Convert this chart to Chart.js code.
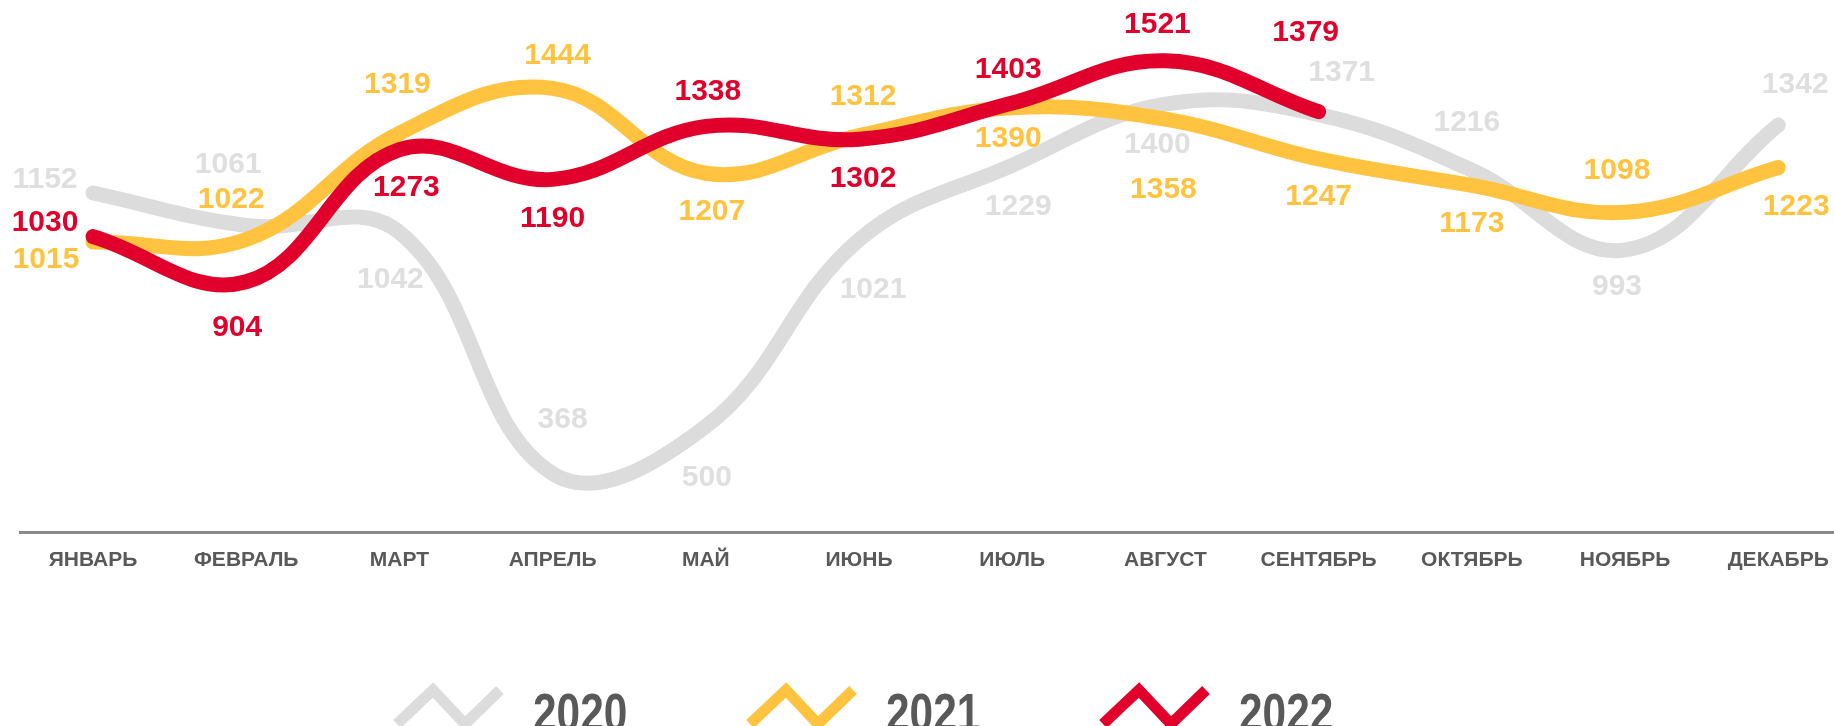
<!DOCTYPE html>
<html>
<head>
<meta charset="utf-8">
<script src="https://cdn.jsdelivr.net/npm/chart.js@4.4.1/dist/chart.umd.min.js"></script>
<style>
  html, body { margin: 0; padding: 0; background: #fff; }
  #wrap { width: 1834px; height: 726px; position: relative; }
</style>
</head>
<body>
<div id="wrap"><canvas id="chart"></canvas></div>
<script>
// months on the x axis
const months = ["ЯНВАРЬ","ФЕВРАЛЬ","МАРТ","АПРЕЛЬ","МАЙ","ИЮНЬ","ИЮЛЬ","АВГУСТ","СЕНТЯБРЬ","ОКТЯБРЬ","НОЯБРЬ","ДЕКАБРЬ"];
const years = ["2020", "2021", "2022"];

// values per year (2022 stops at September)
const v2020 = [1152, 1061, 1042, 368, 500, 1021, 1229, 1400, 1371, 1216, 993, 1342];
const v2021 = [1015, 1022, 1319, 1444, 1207, 1312, 1390, 1358, 1247, 1173, 1098, 1223];
const v2022 = [1030, 904, 1273, 1190, 1338, 1302, 1403, 1521, 1379];

// where each value label sits relative to its point (px)
const dx2020 = [-48, -18, -9, 10, 1, 14, 6, -8, 23, -5, -8, 17];
const dy2020 = [-13, -61, 47, -54, 51, 50, 41, 41, -42, -47, 37, -40];
const dx2021 = [-47, -15, -2, 5, 6, 4, -4, -2, 0, 0, -8, 18];
const dy2021 = [18, -40, -48, -33, 38, -39, 31, 71, 38, 38, -42, 39];
const dx2022 = [-48, -9, 7, 0, 2, 4, -4, -8, -13];
const dy2022 = [-14, 46, 38, 39, -35, 39, -33, -36, -79];

const lineColors = ["#DCDCDC", "#FFC33F", "#E0002B"];
const textColors = ["#DFDFDF", "#FFC33F", "#E0002B"];
const FONT = "'Liberation Sans', Arial, sans-serif";

const series = [v2020, v2021, v2022];
const offsets = [[dx2020, dy2020], [dx2021, dy2021], [dx2022, dy2022]];

const toPoints = arr => arr.map((v, i) => ({ x: i, y: v }));

// value labels next to each point
const valueLabels = {
  id: "valueLabels",
  afterDatasetsDraw(chart) {
    const ctx = chart.ctx;
    ctx.save();
    ctx.font = "bold 30px " + FONT;
    ctx.textAlign = "center";
    ctx.textBaseline = "middle";
    chart.data.datasets.forEach((ds, di) => {
      const meta = chart.getDatasetMeta(di);
      const [dx, dy] = offsets[di];
      ctx.fillStyle = textColors[di];
      meta.data.forEach((pt, j) => {
        ctx.fillText(String(series[di][j]), pt.x + dx[j], pt.y + dy[j]);
      });
    });
    ctx.restore();
  }
};

// legend with zigzag icons, partly cut by the bottom edge like the original
const zigLegend = {
  id: "zigLegend",
  afterDraw(chart) {
    const ctx = chart.ctx;
    const startX = 397, step = 353, top = 690;
    const zig = [[0, 34], [36, 0], [68, 34], [103, 0]];
    chart.data.datasets.forEach((ds, i) => {
      const ix = startX + i * step;
      ctx.save();
      ctx.strokeStyle = ds.borderColor;
      ctx.lineWidth = 11;
      ctx.lineCap = "butt";
      ctx.lineJoin = "miter";
      ctx.beginPath();
      zig.forEach(([px, py], k) => {
        if (k === 0) ctx.moveTo(ix + px, top + py);
        else ctx.lineTo(ix + px, top + py);
      });
      ctx.stroke();
      ctx.translate(ix + 136, 731);
      ctx.scale(0.8, 1);
      ctx.font = "bold 53px " + FONT;
      ctx.fillStyle = "#595959";
      ctx.textAlign = "left";
      ctx.textBaseline = "alphabetic";
      ctx.fillText(ds.label, 0, 0);
      ctx.restore();
    });
  }
};

const mkSet = (i, order) => ({
  label: years[i],
  data: toPoints(series[i]),
  borderColor: lineColors[i],
  backgroundColor: lineColors[i],
  borderWidth: 15,
  borderCapStyle: "round",
  borderJoinStyle: "round",
  tension: 0.4,
  pointRadius: 0,
  pointHoverRadius: 0,
  fill: false,
  order: order
});

new Chart(document.getElementById("chart"), {
  type: "line",
  data: {
    datasets: [mkSet(0, 3), mkSet(1, 2), mkSet(2, 1)]
  },
  options: {
    responsive: true,
    maintainAspectRatio: false,
    animation: false,
    layout: { padding: { left: 20, right: 0, top: 0, bottom: 0 } },
    plugins: {
      legend: { display: false },
      tooltip: { enabled: false }
    },
    scales: {
      x: {
        type: "linear",
        min: -0.4765,
        max: 11.364,
        grid: { display: false, drawTicks: false },
        border: { display: true, color: "#8A8A8A", width: 3 },
        ticks: {
          stepSize: 1,
          includeBounds: false,
          autoSkip: false,
          maxRotation: 0,
          padding: 16,
          color: "#595959",
          font: { family: FONT, size: 21, weight: "bold" },
          callback: v => Number.isInteger(v) ? (months[v] || "") : ""
        },
        afterFit: s => {
          s.height = 194;
          s.paddingLeft = 0;
          s.paddingRight = 0;
        }
      },
      y: {
        display: false,
        min: 205,
        max: 1691
      }
    }
  },
  plugins: [valueLabels, zigLegend]
});
</script>
</body>
</html>
